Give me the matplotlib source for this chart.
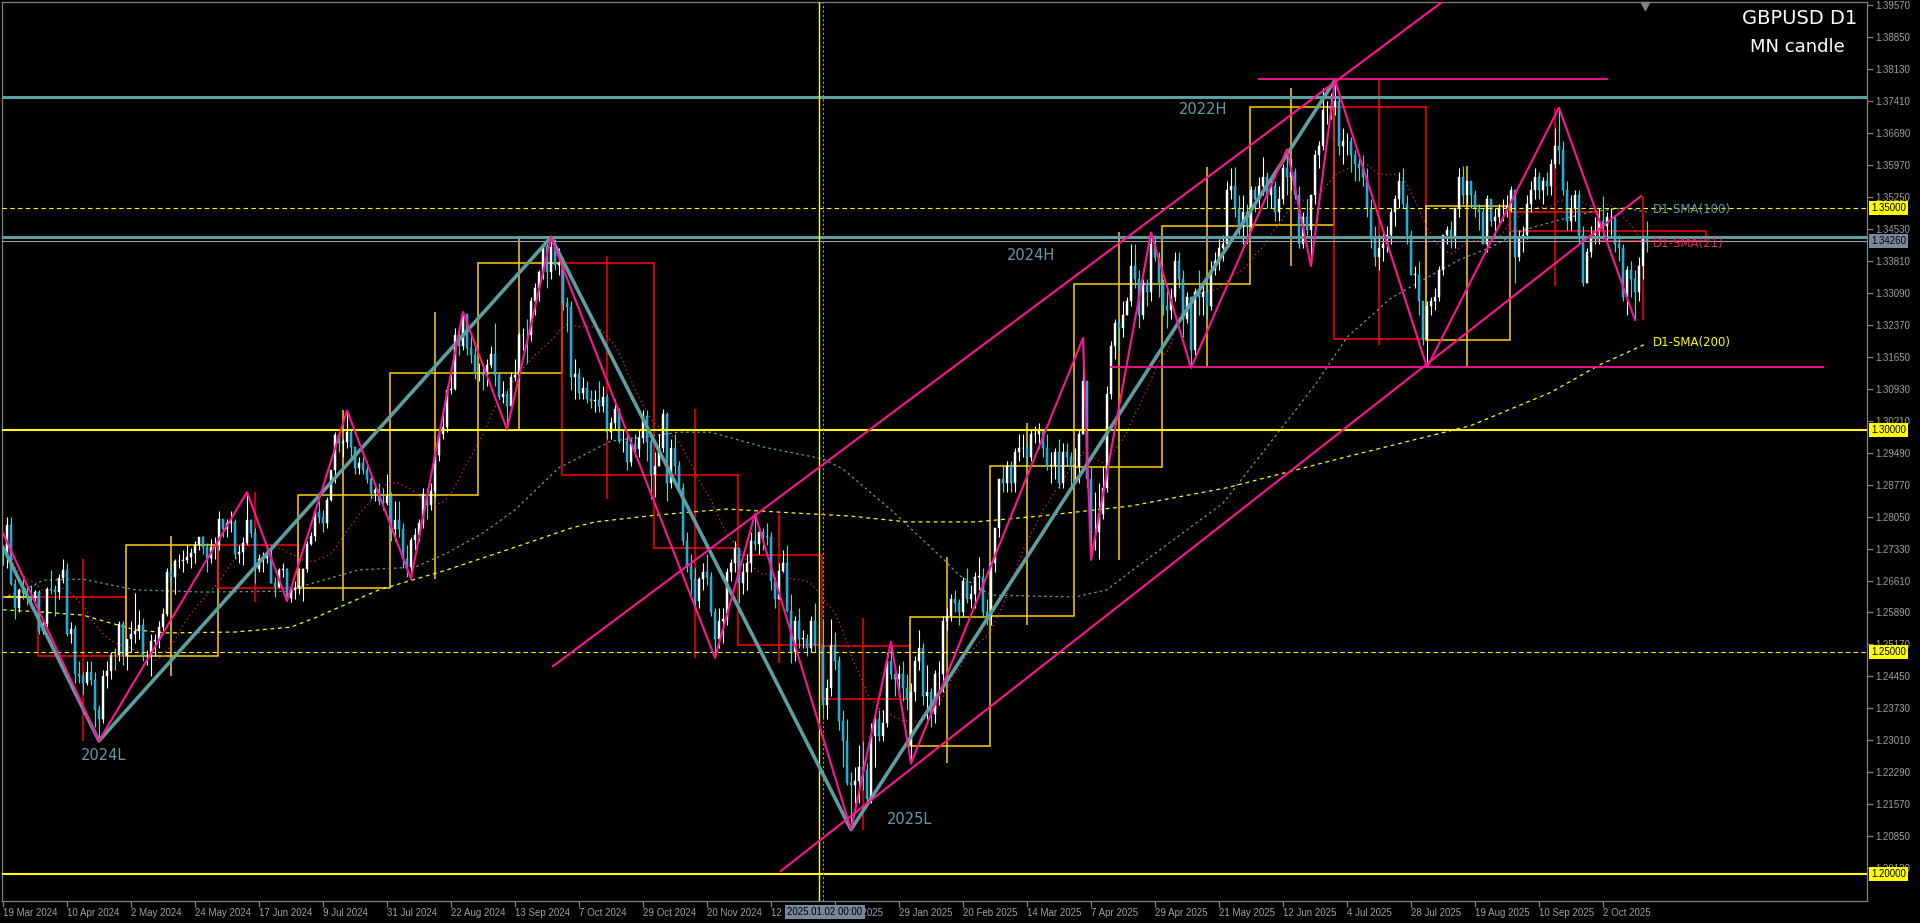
import numpy as np
import pandas as pd
import matplotlib
matplotlib.use('Agg')
import matplotlib.pyplot as plt
import matplotlib.transforms as mtrans
from matplotlib.patches import Rectangle
from matplotlib import font_manager

# ---- daily GBPUSD candles, 2024-03-19 .. 2025-10-17 (open = previous close) ----
first_open = 1.2730
gap_opens = {227: 1.2290}   # 3 Feb 2025 weekend gap

highs = [
    1.2740, 1.2803, 1.2803, 1.2665,
    1.2645, 1.2665, 1.2650, 1.2650, 1.2640,
    1.2640, 1.2574, 1.2647, 1.2684, 1.2650,
    1.2675, 1.2709, 1.2700, 1.2567, 1.2560,
    1.2480, 1.2455, 1.2480, 1.2480, 1.2456,
    1.2380, 1.2460, 1.2480, 1.2500, 1.2510,
    1.2570, 1.2570, 1.2530, 1.2570, 1.2634,
    1.2594, 1.2576, 1.2505, 1.2540, 1.2540,
    1.2570, 1.2600, 1.2690, 1.2700, 1.2710,
    1.2720, 1.2730, 1.2740, 1.2735, 1.2750,
    1.2760, 1.2761, 1.2746, 1.2755, 1.2760,
    1.2817, 1.2800, 1.2800, 1.2818, 1.2800,
    1.2740, 1.2760, 1.2860, 1.2800, 1.2780,
    1.2720, 1.2725, 1.2740, 1.2740, 1.2670,
    1.2690, 1.2700, 1.2690, 1.2650, 1.2660,
    1.2690, 1.2690, 1.2750, 1.2770, 1.2820,
    1.2840, 1.2820, 1.2850, 1.2910, 1.2995,
    1.2990, 1.2980, 1.3044, 1.3000, 1.2960,
    1.2940, 1.2940, 1.2930, 1.2900, 1.2880,
    1.2880, 1.2870, 1.2900, 1.2860, 1.2840,
    1.2840, 1.2790, 1.2740, 1.2760, 1.2780,
    1.2800, 1.2870, 1.2870, 1.2880, 1.2950,
    1.3000, 1.3050, 1.3100, 1.3130, 1.3230,
    1.3230, 1.3266, 1.3260, 1.3220, 1.3190,
    1.3150, 1.3150, 1.3160, 1.3190, 1.3240,
    1.3130, 1.3110, 1.3090, 1.3130, 1.3160,
    1.3220, 1.3230, 1.3250, 1.3300, 1.3330,
    1.3360, 1.3420, 1.3420, 1.3434, 1.3430,
    1.3410, 1.3390, 1.3300, 1.3290, 1.3160,
    1.3140, 1.3120, 1.3110, 1.3090, 1.3090,
    1.3110, 1.3100, 1.3080, 1.3030, 1.3070,
    1.3050, 1.3000, 1.3000, 1.2980, 1.2990,
    1.3000, 1.3045, 1.3045, 1.2990, 1.2950,
    1.2990, 1.3047, 1.3040, 1.2980, 1.2990,
    1.2930, 1.2880, 1.2770, 1.2720, 1.2690,
    1.2670, 1.2700, 1.2720, 1.2680, 1.2600,
    1.2600, 1.2600, 1.2690, 1.2710, 1.2750,
    1.2720, 1.2700, 1.2720, 1.2770, 1.2811,
    1.2780, 1.2780, 1.2790, 1.2770, 1.2670,
    1.2700, 1.2730, 1.2740, 1.2630, 1.2580,
    1.2600, 1.2550, 1.2540, 1.2580, 1.2610, 1.2560,
    1.2575, 1.2440,
    1.2575, 1.2545, 1.2490, 1.2370, 1.2350,
    1.2230, 1.2240, 1.2290, 1.2300, 1.2250,
    1.2340, 1.2360, 1.2370, 1.2370, 1.2500,
    1.2523, 1.2470, 1.2470, 1.2480, 1.2450,
    1.2430, 1.2490, 1.2550, 1.2520, 1.2470,
    1.2420, 1.2460, 1.2480, 1.2580, 1.2600,
    1.2630, 1.2640, 1.2620, 1.2670, 1.2690,
    1.2650, 1.2680, 1.2715, 1.2690, 1.2620,
    1.2700, 1.2780, 1.2890, 1.2920, 1.2930,
    1.2930, 1.2960, 1.2990, 1.2990, 1.2970,
    1.3000, 1.3010, 1.3015, 1.3000, 1.2990,
    1.2950, 1.2960, 1.2980, 1.2970, 1.2970,
    1.2950, 1.2960, 1.3000, 1.3207, 1.3110,
    1.2920, 1.2860, 1.2880, 1.2920, 1.3100,
    1.3200, 1.3250, 1.3250, 1.3290, 1.3300,
    1.3420, 1.3420, 1.3360, 1.3340, 1.3340,
    1.3445, 1.3440, 1.3400, 1.3340, 1.3330,
    1.3320, 1.3400, 1.3400, 1.3360, 1.3310,
    1.3300, 1.3320, 1.3360, 1.3330, 1.3330,
    1.3380, 1.3400, 1.3430, 1.3440, 1.3560,
    1.3590, 1.3593, 1.3530, 1.3530, 1.3510,
    1.3550, 1.3550, 1.3570, 1.3616, 1.3580,
    1.3570, 1.3560, 1.3550, 1.3600, 1.3632,
    1.3610, 1.3590, 1.3550, 1.3490, 1.3520,
    1.3530, 1.3630, 1.3650, 1.3770, 1.3740,
    1.3760, 1.3789, 1.3760, 1.3680, 1.3670,
    1.3660, 1.3630, 1.3620, 1.3620, 1.3590,
    1.3520, 1.3460, 1.3440, 1.3450, 1.3460,
    1.3500, 1.3530, 1.3580, 1.3590, 1.3530,
    1.3450, 1.3370, 1.3380, 1.3290, 1.3290,
    1.3300, 1.3320, 1.3370, 1.3440, 1.3460,
    1.3470, 1.3500, 1.3590, 1.3595, 1.3560,
    1.3560, 1.3540, 1.3510, 1.3500, 1.3530,
    1.3520, 1.3500, 1.3510, 1.3520, 1.3530,
    1.3550, 1.3540, 1.3450, 1.3460, 1.3530,
    1.3560, 1.3590, 1.3580, 1.3570, 1.3580,
    1.3610, 1.3680, 1.3726, 1.3650, 1.3560,
    1.3530, 1.3540, 1.3540, 1.3460, 1.3410,
    1.3460, 1.3480, 1.3500, 1.3527, 1.3490,
    1.3500, 1.3480, 1.3440, 1.3420, 1.3370,
    1.3380, 1.3360, 1.3390, 1.3440, 1.3470,
]
lows = [
    1.2695, 1.2690, 1.2650, 1.2575,
    1.2590, 1.2620, 1.2605, 1.2600, 1.2605,
    1.2540, 1.2540, 1.2557, 1.2630, 1.2580,
    1.2620, 1.2655, 1.2535, 1.2520, 1.2430,
    1.2430, 1.2405, 1.2425, 1.2425, 1.2330,
    1.2300, 1.2340, 1.2420, 1.2440, 1.2460,
    1.2480, 1.2470, 1.2460, 1.2500, 1.2520,
    1.2530, 1.2480, 1.2470, 1.2446, 1.2490,
    1.2510, 1.2540, 1.2580, 1.2650, 1.2630,
    1.2690, 1.2680, 1.2700, 1.2690, 1.2700,
    1.2730, 1.2720, 1.2680, 1.2700, 1.2710,
    1.2730, 1.2760, 1.2760, 1.2770, 1.2710,
    1.2700, 1.2695, 1.2740, 1.2760, 1.2656,
    1.2680, 1.2680, 1.2700, 1.2655, 1.2625,
    1.2645, 1.2670, 1.2615, 1.2612, 1.2620,
    1.2630, 1.2615, 1.2680, 1.2740, 1.2750,
    1.2790, 1.2770, 1.2780, 1.2840, 1.2880,
    1.2950, 1.2940, 1.2960, 1.2940, 1.2900,
    1.2900, 1.2900, 1.2880, 1.2844, 1.2840,
    1.2830, 1.2820, 1.2830, 1.2750, 1.2750,
    1.2760, 1.2690, 1.2670, 1.2665, 1.2730,
    1.2750, 1.2780, 1.2800, 1.2820, 1.2850,
    1.2930, 1.2980, 1.2995, 1.3080, 1.3090,
    1.3170, 1.3180, 1.3170, 1.3150, 1.3115,
    1.3110, 1.3090, 1.3100, 1.3140, 1.3100,
    1.3070, 1.3060, 1.3002, 1.3040, 1.3110,
    1.3110, 1.3180, 1.3150, 1.3200, 1.3260,
    1.3290, 1.3340, 1.3320, 1.3340, 1.3360,
    1.3350, 1.3270, 1.3220, 1.3090, 1.3070,
    1.3070, 1.3070, 1.3060, 1.3050, 1.3040,
    1.3040, 1.3040, 1.2980, 1.2980, 1.3000,
    1.2970, 1.2950, 1.2910, 1.2920, 1.2940,
    1.2940, 1.2970, 1.2930, 1.2845, 1.2850,
    1.2920, 1.2950, 1.2840, 1.2870, 1.2900,
    1.2860, 1.2740, 1.2680, 1.2630, 1.2600,
    1.2600, 1.2640, 1.2650, 1.2580, 1.2487,
    1.2510, 1.2520, 1.2560, 1.2660, 1.2680,
    1.2610, 1.2630, 1.2640, 1.2680, 1.2730,
    1.2720, 1.2730, 1.2740, 1.2640, 1.2600,
    1.2620, 1.2680, 1.2590, 1.2475, 1.2480,
    1.2510, 1.2510, 1.2490, 1.2500, 1.2500, 1.2500,
    1.2350, 1.2350,
    1.2400, 1.2460, 1.2325, 1.2240, 1.2200,
    1.2100, 1.2160, 1.2160, 1.2190, 1.2160,
    1.2160, 1.2240, 1.2300, 1.2300, 1.2330,
    1.2440, 1.2400, 1.2400, 1.2390, 1.2370,
    1.2249, 1.2390, 1.2460, 1.2380, 1.2350,
    1.2330, 1.2340, 1.2380, 1.2410, 1.2550,
    1.2570, 1.2590, 1.2560, 1.2580, 1.2610,
    1.2600, 1.2600, 1.2640, 1.2580, 1.2560,
    1.2560, 1.2680, 1.2760, 1.2860, 1.2860,
    1.2860, 1.2860, 1.2930, 1.2940, 1.2920,
    1.2930, 1.2970, 1.2960, 1.2940, 1.2910,
    1.2880, 1.2890, 1.2870, 1.2870, 1.2920,
    1.2870, 1.2880, 1.2880, 1.2990, 1.2870,
    1.2708, 1.2730, 1.2710, 1.2800, 1.2860,
    1.3070, 1.3160, 1.3180, 1.3210, 1.3260,
    1.3280, 1.3320, 1.3230, 1.3250, 1.3280,
    1.3290, 1.3380, 1.3300, 1.3260, 1.3230,
    1.3250, 1.3290, 1.3320, 1.3210, 1.3240,
    1.3140, 1.3170, 1.3260, 1.3260, 1.3250,
    1.3270, 1.3350, 1.3360, 1.3380, 1.3420,
    1.3520, 1.3480, 1.3440, 1.3420, 1.3420,
    1.3450, 1.3490, 1.3500, 1.3530, 1.3500,
    1.3500, 1.3470, 1.3470, 1.3510, 1.3530,
    1.3540, 1.3520, 1.3410, 1.3410, 1.3440,
    1.3370, 1.3510, 1.3590, 1.3630, 1.3690,
    1.3700, 1.3710, 1.3620, 1.3600, 1.3620,
    1.3580, 1.3560, 1.3560, 1.3550, 1.3480,
    1.3410, 1.3370, 1.3360, 1.3380, 1.3400,
    1.3420, 1.3460, 1.3500, 1.3500, 1.3420,
    1.3350, 1.3320, 1.3260, 1.3191, 1.3141,
    1.3260, 1.3270, 1.3290, 1.3350, 1.3420,
    1.3410, 1.3410, 1.3480, 1.3510, 1.3510,
    1.3500, 1.3480, 1.3450, 1.3420, 1.3400,
    1.3460, 1.3440, 1.3460, 1.3470, 1.3480,
    1.3490, 1.3330, 1.3380, 1.3400, 1.3430,
    1.3490, 1.3520, 1.3520, 1.3510, 1.3530,
    1.3530, 1.3590, 1.3600, 1.3530, 1.3450,
    1.3450, 1.3470, 1.3420, 1.3325, 1.3330,
    1.3390, 1.3420, 1.3420, 1.3430, 1.3420,
    1.3440, 1.3400, 1.3380, 1.3290, 1.3260,
    1.3300, 1.3248, 1.3290, 1.3340, 1.3400,
]
closes = [
    1.2720, 1.2786, 1.2654, 1.2598,
    1.2640, 1.2633, 1.2625, 1.2622, 1.2635,
    1.2548, 1.2562, 1.2642, 1.2640, 1.2636,
    1.2667, 1.2685, 1.2540, 1.2552, 1.2450,
    1.2446, 1.2430, 1.2454, 1.2437, 1.2370,
    1.2350, 1.2446, 1.2458, 1.2494, 1.2493,
    1.2563, 1.2491, 1.2530, 1.2541, 1.2548,
    1.2560, 1.2490, 1.2492, 1.2524, 1.2526,
    1.2556, 1.2585, 1.2680, 1.2668, 1.2705,
    1.2705, 1.2707, 1.2715, 1.2722, 1.2741,
    1.2758, 1.2736, 1.2712, 1.2736, 1.2740,
    1.2800, 1.2777, 1.2790, 1.2792, 1.2720,
    1.2725, 1.2745, 1.2797, 1.2768, 1.2686,
    1.2710, 1.2711, 1.2718, 1.2655, 1.2646,
    1.2684, 1.2686, 1.2622, 1.2640, 1.2645,
    1.2648, 1.2686, 1.2743, 1.2761, 1.2815,
    1.2805, 1.2790, 1.2843, 1.2910, 1.2988,
    1.2970, 1.2974, 1.2995, 1.2962, 1.2914,
    1.2926, 1.2910, 1.2890, 1.2858, 1.2866,
    1.2839, 1.2836, 1.2852, 1.2778, 1.2798,
    1.2778, 1.2709, 1.2691, 1.2753, 1.2763,
    1.2790, 1.2857, 1.2830, 1.2862, 1.2943,
    1.2990, 1.3006, 1.3090, 1.3093, 1.3213,
    1.3190, 1.3262, 1.3185, 1.3170, 1.3128,
    1.3128, 1.3125, 1.3147, 1.3172, 1.3125,
    1.3075, 1.3080, 1.3053, 1.3120, 1.3124,
    1.3214, 1.3214, 1.3213, 1.3290, 1.3320,
    1.3356, 1.3415, 1.3355, 1.3413, 1.3371,
    1.3376, 1.3285, 1.3277, 1.3120, 1.3126,
    1.3083, 1.3094, 1.3070, 1.3066, 1.3068,
    1.3055, 1.3074, 1.2995, 1.3016, 1.3048,
    1.2975, 1.2976, 1.2927, 1.2968, 1.2958,
    1.2983, 1.3031, 1.2973, 1.2899, 1.2920,
    1.2960, 1.3035, 1.2880, 1.2960, 1.2918,
    1.2870, 1.2750, 1.2694, 1.2665, 1.2614,
    1.2664, 1.2680, 1.2670, 1.2590, 1.2530,
    1.2570, 1.2575, 1.2680, 1.2700, 1.2734,
    1.2655, 1.2680, 1.2700, 1.2750, 1.2743,
    1.2770, 1.2762, 1.2758, 1.2660, 1.2620,
    1.2683, 1.2700, 1.2592, 1.2500, 1.2570,
    1.2530, 1.2530, 1.2510, 1.2570, 1.2515, 1.2516,
    1.2380, 1.2420,
    1.2515, 1.2480, 1.2345, 1.2300, 1.2205,
    1.2200, 1.2210, 1.2240, 1.2235, 1.2170,
    1.2310, 1.2350, 1.2310, 1.2340, 1.2480,
    1.2450, 1.2440, 1.2450, 1.2420, 1.2394,
    1.2410, 1.2480, 1.2510, 1.2400, 1.2410,
    1.2360, 1.2450, 1.2450, 1.2570, 1.2580,
    1.2620, 1.2610, 1.2590, 1.2660, 1.2620,
    1.2630, 1.2670, 1.2670, 1.2590, 1.2578,
    1.2700, 1.2780, 1.2890, 1.2880, 1.2920,
    1.2880, 1.2950, 1.2960, 1.2960, 1.2940,
    1.2990, 1.2990, 1.3000, 1.2960, 1.2920,
    1.2920, 1.2950, 1.2880, 1.2950, 1.2940,
    1.2918, 1.2920, 1.2990, 1.3110, 1.2890,
    1.2770, 1.2770, 1.2810, 1.2870, 1.3080,
    1.3190, 1.3240, 1.3230, 1.3260, 1.3290,
    1.3370, 1.3340, 1.3260, 1.3330, 1.3310,
    1.3420, 1.3390, 1.3329, 1.3280, 1.3270,
    1.3300, 1.3380, 1.3340, 1.3250, 1.3300,
    1.3180, 1.3310, 1.3300, 1.3310, 1.3280,
    1.3360, 1.3380, 1.3410, 1.3420, 1.3540,
    1.3550, 1.3500, 1.3460, 1.3490, 1.3459,
    1.3540, 1.3520, 1.3550, 1.3570, 1.3530,
    1.3550, 1.3490, 1.3520, 1.3590, 1.3570,
    1.3580, 1.3530, 1.3420, 1.3480, 1.3450,
    1.3530, 1.3620, 1.3640, 1.3720, 1.3720,
    1.3727, 1.3740, 1.3640, 1.3650, 1.3650,
    1.3620, 1.3600, 1.3590, 1.3570, 1.3500,
    1.3430, 1.3390, 1.3410, 1.3420, 1.3440,
    1.3490, 1.3520, 1.3560, 1.3510, 1.3440,
    1.3350, 1.3350, 1.3290, 1.3205, 1.3280,
    1.3290, 1.3300, 1.3360, 1.3440, 1.3450,
    1.3430, 1.3500, 1.3570, 1.3530, 1.3560,
    1.3530, 1.3500, 1.3490, 1.3420, 1.3520,
    1.3470, 1.3480, 1.3500, 1.3500, 1.3505,
    1.3540, 1.3390, 1.3430, 1.3440, 1.3510,
    1.3540, 1.3570, 1.3540, 1.3560, 1.3550,
    1.3600, 1.3640, 1.3630, 1.3540, 1.3470,
    1.3500, 1.3530, 1.3440, 1.3330, 1.3400,
    1.3440, 1.3448, 1.3470, 1.3460, 1.3480,
    1.3480, 1.3420, 1.3410, 1.3300, 1.3360,
    1.3340, 1.3310, 1.3370, 1.3430, 1.3426,
]

# ---- monthly candles (MN candle overlay) ----
month_keys = ['2024-03', '2024-04', '2024-05', '2024-06', '2024-07', '2024-08', '2024-09',
              '2024-10', '2024-11', '2024-12', '2025-01', '2025-02', '2025-03', '2025-04',
              '2025-05', '2025-06', '2025-07', '2025-08', '2025-09', '2025-10']
mn_open = [1.2623, 1.2623, 1.2490, 1.2740, 1.2645, 1.2853, 1.3128, 1.3376, 1.2899, 1.2718,
           1.2514, 1.2288, 1.2580, 1.2917, 1.3329, 1.3462, 1.3727, 1.3203, 1.3491, 1.3448]
mn_high = [1.2893, 1.2709, 1.2761, 1.2860, 1.3044, 1.3266, 1.3434, 1.3391, 1.3047, 1.2811,
           1.2577, 1.2715, 1.3015, 1.3445, 1.3593, 1.3770, 1.3789, 1.3595, 1.3726, 1.3527]
mn_low = [1.2575, 1.2300, 1.2446, 1.2612, 1.2615, 1.2665, 1.3002, 1.2845, 1.2487, 1.2475,
          1.2100, 1.2249, 1.2560, 1.2708, 1.3140, 1.3370, 1.3191, 1.3142, 1.3325, 1.3248]
mn_close = [1.2624, 1.2490, 1.2740, 1.2645, 1.2853, 1.3128, 1.3376, 1.2899, 1.2734, 1.2516,
            1.2394, 1.2578, 1.2918, 1.3329, 1.3459, 1.3727, 1.3205, 1.3505, 1.3448, 1.3426]

# ---- moving averages (bar index, price) ----
sma100_idx = [0, 8, 10, 20, 33, 50, 72, 74, 89, 103, 111, 120, 128, 139, 152, 169, 177, 190,
              205, 210, 222, 235, 239, 247, 268, 276, 282, 305, 328, 336, 347, 355, 364, 372,
              380, 389, 397, 405, 411]
sma100_val = [1.2622, 1.2651, 1.2662, 1.2664, 1.2640, 1.2635, 1.2637, 1.2646, 1.2685, 1.2691,
              1.2723, 1.2768, 1.2820, 1.2915, 1.2975, 1.2995, 1.2995, 1.2962, 1.2935, 1.2912,
              1.2820, 1.2710, 1.2673, 1.2628, 1.2624, 1.2640, 1.2682, 1.2835, 1.3101, 1.3209,
              1.3297, 1.3338, 1.3383, 1.3412, 1.3450, 1.3473, 1.3491, 1.3500, 1.3491]
sma200_idx = [0, 10, 20, 27, 33, 41, 58, 72, 78, 94, 111, 128, 142, 148, 164, 181, 198, 212,
              226, 243, 259, 282, 306, 336, 367, 387, 399, 411]
sma200_val = [1.2595, 1.2590, 1.2583, 1.2565, 1.2550, 1.2543, 1.2545, 1.2556, 1.2577, 1.2640,
              1.2685, 1.2736, 1.2779, 1.2793, 1.2809, 1.2822, 1.2813, 1.2806, 1.2793, 1.2793,
              1.2806, 1.2829, 1.2870, 1.2940, 1.3010, 1.3085, 1.3146, 1.3195]

# ---- zigzags, channel and levels ----
zz_pink_idx = [0, 24, 61, 71, 86, 102, 115, 126, 137, 178, 188, 212, 222, 227, 270, 272, 287,
               297, 321, 327, 333, 356, 389, 408]
zz_pink_val = [1.2768, 1.2300, 1.2860, 1.2615, 1.3044, 1.2665, 1.3266, 1.3002, 1.3434, 1.2487,
               1.2811, 1.2100, 1.2523, 1.2249, 1.3207, 1.2708, 1.3445, 1.3140, 1.3632, 1.3370,
               1.3788, 1.3141, 1.3726, 1.3248]
zz_teal_idx = [0, 24, 137, 212, 333]
zz_teal_val = [1.2736, 1.2300, 1.3434, 1.2100, 1.3788]
chan_upper = [(137.5, 1.2468), (362, 1.3979)]
chan_lower = [(194.5, 1.2007), (409.5, 1.3527)]
hline_pink = [(277, 455, 1.3141), (314, 401, 1.3790)]
level_teal = [1.3749, 1.3434]
level_yellow = [1.30, 1.20]
level_yellow_dash = [1.35, 1.25]
bid_price = 1.3426
pivot_text = [('2022H', 294, 1.3721), ('2024H', 251, 1.3394),
              ('2024L', 19.5, 1.2268), ('2025L', 221, 1.2122)]

tick_idx = list(range(0, 401, 16))
tick_dates = ['19 Mar 2024', '10 Apr 2024', '2 May 2024', '24 May 2024', '17 Jun 2024',
              '9 Jul 2024', '31 Jul 2024', '22 Aug 2024', '13 Sep 2024', '7 Oct 2024',
              '29 Oct 2024', '20 Nov 2024', '12 Dec 2024', '7 Jan 2025', '29 Jan 2025',
              '20 Feb 2025', '14 Mar 2025', '7 Apr 2025', '29 Apr 2025', '21 May 2025',
              '12 Jun 2025', '4 Jul 2025', '28 Jul 2025', '19 Aug 2025', '10 Sep 2025',
              '2 Oct 2025']
price_ticks = [1.39570, 1.38850, 1.38130, 1.37410, 1.36690, 1.35970, 1.35250, 1.34530,
               1.33810, 1.33090, 1.32370, 1.31650, 1.30930, 1.30210, 1.29490, 1.28770,
               1.28050, 1.27330, 1.26610, 1.25890, 1.25170, 1.24450, 1.23730, 1.23010,
               1.22290, 1.21570, 1.20850, 1.20130]

# ---------------------------------------------------------------
have = {f.name for f in font_manager.fontManager.ttflist}
small_font = 'Liberation Sans Narrow' if 'Liberation Sans Narrow' in have else 'Liberation Sans'
small_size = 7.8 if small_font == 'Liberation Sans Narrow' else 7.0

PINK = '#ff1493'
TEAL = '#5f9ea0'
GRID = '#808080'

dates = pd.bdate_range('2024-03-19', '2025-10-17')
dates = dates[~dates.isin(pd.to_datetime(['2024-12-25', '2025-01-01']))]

n = len(closes)
x = np.arange(n)
c = np.array(closes)
o = np.r_[first_open, c[:-1]]
for k, v in gap_opens.items():
    o[k] = v
h = np.maximum(np.array(highs), np.maximum(o, c))
l = np.minimum(np.array(lows), np.minimum(o, c))
up = c >= o


def bar_of(t):
    # bar index of a time; calendar days past the last bar, weekdays before the first
    if t > dates[-1]:
        return n - 1 + (t - dates[-1]).days
    if t < dates[0]:
        return -len(pd.bdate_range(t, dates[0])) + 1
    return dates.searchsorted(t)


fig = plt.figure(figsize=(19.2, 9.23), dpi=100, facecolor='black')
ax = fig.add_axes([2 / 1920, 22 / 923, 1865 / 1920, 899 / 923])
ax.set_facecolor('black')
ax.set_xlim(-0.25, 466)
ax.set_ylim(1.19392, 1.39640)

# levels
for lv in level_yellow:
    ax.axhline(lv, color='#ffff00', lw=1.5, zorder=4)
for lv in level_yellow_dash:
    ax.axhline(lv, color='#ffff00', lw=0.8, ls=(0, (4, 3)), zorder=4)
for lv in level_teal:
    ax.axhline(lv, color=TEAL, lw=2.2, zorder=4)
ax.axhline(bid_price, color='#9aa5b1', lw=0.8, zorder=4)

# crosshair / period separator
ax.axvline(204, color='#ffff00', lw=1.0, zorder=4)
ax.axvline(205, color='#8a9aaa', lw=0.8, ls=(0, (2, 2)), zorder=4)

# monthly candles
for i, key in enumerate(month_keys):
    t0 = pd.Timestamp(key + '-01')
    t1 = t0 + pd.offsets.MonthBegin(1)
    s, e = bar_of(t0), bar_of(t1)
    mid = dates.searchsorted(t0 + (t1 - t0) / 2, side='right') - 1
    col = '#ffd000' if mn_close[i] >= mn_open[i] else '#ff0000'
    lo_b, hi_b = min(mn_open[i], mn_close[i]), max(mn_open[i], mn_close[i])
    ax.add_patch(Rectangle((s - 0.3, lo_b), e - s, max(hi_b - lo_b, 0.00005),
                           fill=False, edgecolor=col, lw=1.1, zorder=2))
    ax.vlines(mid, mn_low[i], mn_high[i], color=col, lw=1.1, zorder=2)

# moving averages
sma21 = pd.Series(c).rolling(21, min_periods=1).mean()
ax.plot(x, sma21, color='#e8246e', lw=0.9, ls=(0, (1, 2.5)), zorder=2.5)
ax.plot(sma100_idx, sma100_val, color=TEAL, lw=0.9, ls=(0, (2, 2.5)), zorder=2.5)
ax.plot(sma200_idx, sma200_val, color='#ffff00', lw=0.9, ls=(0, (3, 3)), zorder=2.5)

# daily candles
ax.vlines(x[up], l[up], h[up], color='white', lw=0.8, zorder=3)
ax.vlines(x[~up], l[~up], h[~up], color='#40e0d0', lw=0.8, zorder=3)
body = np.maximum(np.abs(c - o), 0.00006)
ax.bar(x[up], body[up], bottom=np.minimum(o, c)[up], width=0.7,
       color='white', edgecolor='white', lw=0.3, zorder=3.1)
ax.bar(x[~up], body[~up], bottom=np.minimum(o, c)[~up], width=0.7,
       color='#1e9be8', edgecolor='#40e0d0', lw=0.3, zorder=3.1)

# zigzags and channel
ax.plot(zz_teal_idx, zz_teal_val, color=TEAL, lw=2.6, zorder=5, solid_capstyle='butt')
ax.plot(zz_pink_idx, zz_pink_val, color=PINK, lw=1.5, zorder=5.5)
for line in (chan_upper, chan_lower):
    ax.plot([line[0][0], line[1][0]], [line[0][1], line[1][1]], color=PINK, lw=1.5, zorder=5.5)
for x0, x1, lv in hline_pink:
    ax.plot([x0, x1], [lv, lv], color=PINK, lw=1.3, zorder=5.5)

for txt, xi, yv in pivot_text:
    ax.text(xi, yv, txt, color=TEAL, fontsize=10.5, ha='left', va='center', zorder=6)

# SMA labels at the right end
for txt, yv, col in [('D1-SMA(100)', 1.3497, TEAL),
                     ('D1-SMA(21)', 1.3421, '#e8246e'),
                     ('D1-SMA(200)', 1.3196, '#ffff00')]:
    ax.text(412.5, yv, txt, color=col, fontsize=8.5, ha='left', va='center', zorder=6)

# axes frame
for sp in ax.spines.values():
    sp.set_color(GRID)
    sp.set_linewidth(0.9)
ax.yaxis.tick_right()
ax.set_yticks(price_ticks)
ax.set_yticklabels(['%.5f' % v for v in price_ticks])
ax.set_xticks(tick_idx)
ax.set_xticklabels(tick_dates, ha='left')
ax.tick_params(axis='y', colors=GRID, labelcolor='#a0a0a0', length=4, width=0.9,
               direction='out', pad=2)
ax.tick_params(axis='x', colors=GRID, labelcolor='#a0a0a0', length=4, width=0.9,
               direction='out', pad=1)
for lbl in ax.get_xticklabels() + ax.get_yticklabels():
    lbl.set_fontfamily(small_font)
    lbl.set_fontsize(small_size)

# price labels on the right axis
tr = mtrans.blended_transform_factory(ax.transAxes, ax.transData)
for lv in level_yellow + level_yellow_dash:
    ax.text(1.0 + 4 / 1865, lv, '%.5f' % lv, transform=tr, ha='left', va='center',
            fontsize=small_size, family=small_font, color='black', clip_on=False, zorder=10,
            bbox=dict(boxstyle='square,pad=0.2', fc='#ffff00', ec='none'))
ax.text(1.0 + 4 / 1865, bid_price, '%.5f' % bid_price, transform=tr, ha='left', va='center',
        fontsize=small_size, family=small_font, color='black', clip_on=False, zorder=10,
        bbox=dict(boxstyle='square,pad=0.2', fc='#778899', ec='none'))

# crosshair time label
trx = mtrans.blended_transform_factory(ax.transData, ax.transAxes)
ax.text(205.5, -0.012, '2025.01.02 00:00', transform=trx, ha='center', va='center',
        fontsize=small_size, family=small_font, color='black', clip_on=False, zorder=10,
        bbox=dict(boxstyle='square,pad=0.2', fc='#778899', ec='none'))

# chart shift marker
ax.plot([410.5], [1.3955], marker='v', color=GRID, ms=6, zorder=6, clip_on=False)

fig.text(1857 / 1920, 1 - 18 / 923, 'GBPUSD D1', color='white', fontsize=14,
         ha='right', va='center')
fig.text(1797 / 1920, 1 - 47 / 923, 'MN candle', color='white', fontsize=13,
         ha='center', va='center')

fig.savefig('out.png', dpi=100, facecolor='black')
